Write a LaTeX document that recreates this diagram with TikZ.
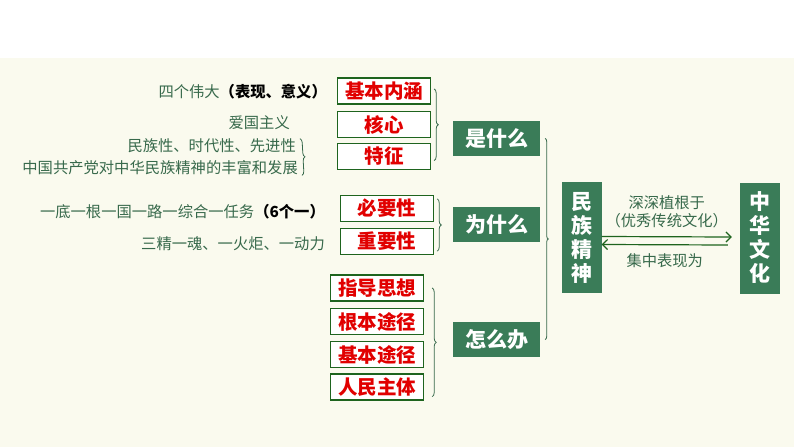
\documentclass[tikz,border=0pt]{standalone}
\usepackage{fontspec}
\setmainfont{Noto Sans CJK SC}
\usetikzlibrary{arrows.meta,positioning,decorations.pathreplacing,calc}
\definecolor{bgcream}{RGB}{250,250,238}
\definecolor{boxgreen}{RGB}{58,124,88}
\definecolor{framegreen}{RGB}{30,100,30}
\definecolor{textgreen}{RGB}{55,105,75}
\definecolor{keyred}{RGB}{225,0,0}

\begin{document}
\begin{tikzpicture}[x=1pt, y=-1pt,
    redbox/.style={draw=framegreen, line width=1.4pt, fill=white, minimum width=#1pt,
        minimum height=26pt, inner sep=0pt, text=keyred, font=\fontsize{19.5}{19.5}\selectfont\bfseries},
    redbox/.default=93,
    topicbox/.style={fill=boxgreen, minimum width=87pt, minimum height=35pt,
        text=white, font=\fontsize{21}{21}\selectfont\bfseries},
    tallbox/.style={fill=boxgreen, minimum width=40pt, minimum height=111pt,
        text=white, align=center, font=\fontsize{21}{24}\selectfont\bfseries},
    note/.style={text=textgreen, font=\fontsize{15.3}{18}\selectfont, inner sep=0pt},
    brc/.style={decorate, decoration={brace, amplitude=#1}, draw=textgreen, line width=0.8pt},
    brc/.default=4pt,
    arrw/.style={-{Straight Barb[length=5pt]}, draw=framegreen, line width=1.2pt},
]
\useasboundingbox (0,0) rectangle (794,447);
\fill[bgcream] (0,58) rectangle (794,447);

% === red keyword boxes ===
\node[redbox] (jbnh) at (384,91) {基本内涵};
\node[redbox] (hx)   at (384,124.5) {核心};
\node[redbox] (tz)   at (384,156.5) {特征};
\node[redbox] (byx)  at (387,208.5) {必要性};
\node[redbox] (zyx)  at (387,241.5) {重要性};
\node[redbox] (zdsx) at (377,288) {指导思想};
\node[redbox] (gbtj) at (377,321.5) {根本途径};
\node[redbox] (jbtj) at (377,354.5) {基本途径};
\node[redbox] (rmzt) at (377,387) {人民主体};

% === green topic boxes ===
\node[topicbox] (sm)  at (496.5,138.5) {是什么};
\node[topicbox] (wsm) at (496.5,224.5) {为什么};
\node[topicbox] (zmb) at (496.5,339.5) {怎么办};
\node[tallbox] (mzjs) at (581.5,237.5) {民\\族\\精\\神};
\node[tallbox] (zhwh) at (760,238) {中\\华\\文\\化};

% === notes on the left ===
\node[note, anchor=east] (n1) at (327,92) {四个伟大\textcolor{black}{\bfseries（表现、意义）}};
\node[note, anchor=east] (n2) at (290,123) {爱国主义};
\node[note, anchor=east] (n3) at (296,146) {民族性、时代性、先进性};
\node[note, anchor=east] (n4) at (298,168) {中国共产党对中华民族精神的丰富和发展};
\node[note, anchor=east] (n5) at (325,212) {一底一根一国一路一综合一任务\textcolor{black}{\bfseries（6个一）}};
\node[note, anchor=east] (n6) at (325,244) {三精一魂、一火炬、一动力};

% === braces ===
\draw[brc] ([xshift=4pt]n3.north east) -- ([xshift=4pt]n4.south east);
\draw[brc] ([xshift=3pt,yshift=2pt]jbnh.east) -- ([xshift=3pt,yshift=-4pt]tz.east);
\draw[brc] ([xshift=3pt,yshift=-4pt]byx.north east) -- ([xshift=3pt,yshift=4pt]zyx.south east);
\draw[brc] ([xshift=8pt]zdsx.east) -- ([xshift=8pt,yshift=4pt]rmzt.south east);
\draw[brc=3pt] ([xshift=5pt]sm.east) -- ([xshift=5pt]zmb.east);

% === arrows between the two columns ===
\draw[arrw] ([yshift=1pt]mzjs.east) -- ([xshift=-8pt,yshift=1pt]zhwh.west) node[midway, above=8pt, note, align=center] (up) {深深植根于\\（优秀传统文化）};
\draw[arrw] ([xshift=-12pt,yshift=-7pt]zhwh.west) -- ([yshift=-7pt]mzjs.east) node[midway, below=8pt, note] (dn) {集中表现为};
\end{tikzpicture}
\end{document}
